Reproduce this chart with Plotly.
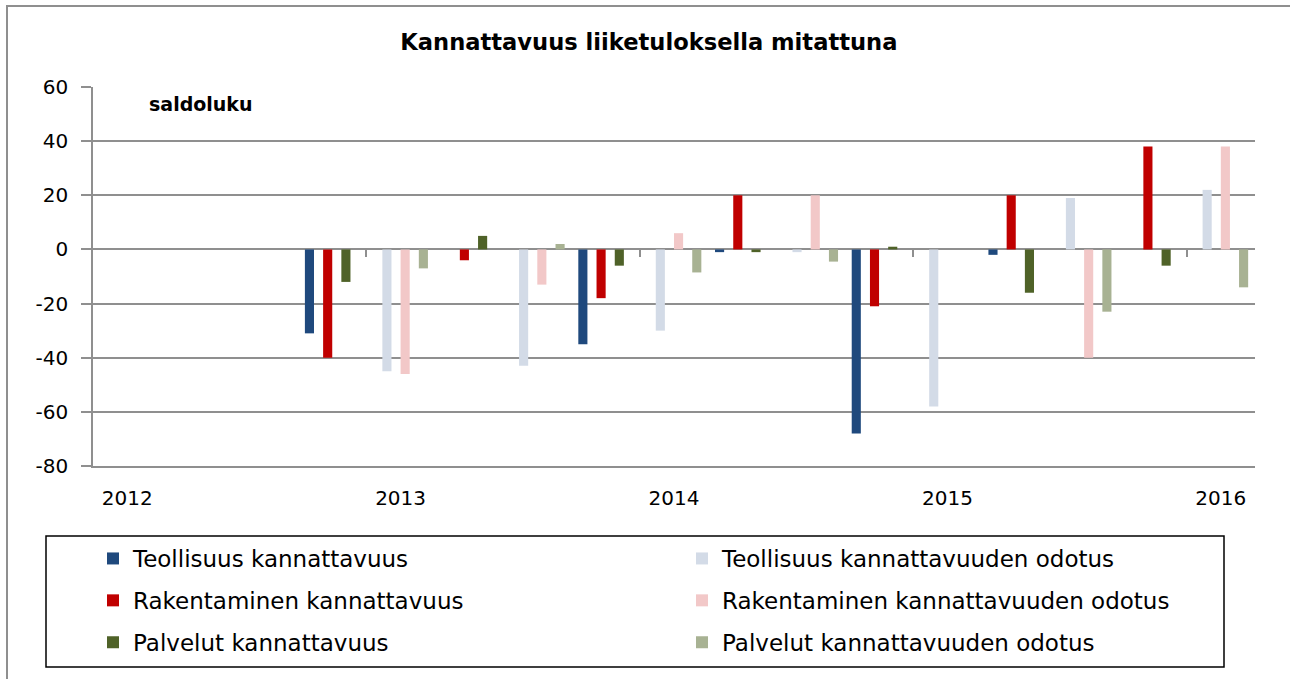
import plotly.graph_objects as go

# ---- data -------------------------------------------------------------
categories = ["2012Q1", "2012Q2", "2012Q3", "2012Q4",
              "2013Q1", "2013Q2", "2013Q3", "2013Q4",
              "2014Q1", "2014Q2", "2014Q3", "2014Q4",
              "2015Q1", "2015Q2", "2015Q3", "2015Q4",
              "2016Q1"]
tick_cats = ["2012Q1", "2013Q1", "2014Q1", "2015Q1", "2016Q1"]
tick_labels = ["2012", "2013", "2014", "2015", "2016"]

y_tick_vals = [-80, -60, -40, -20, 0, 20, 40, 60]
y_tick_labels = ["-80", "-60", "-40", "-20", "0", "20", "40", "60"]

actual_periods = ["2012Q4", "2013Q2", "2013Q4", "2014Q2", "2014Q4", "2015Q2", "2015Q4"]
expect_periods = ["2013Q1", "2013Q3", "2014Q1", "2014Q3", "2015Q1", "2015Q3", "2016Q1"]

teollisuus_k = [-31, 0, -35, -1, -68, -2, 0]
rakentaminen_k = [-40, -4, -18, 20, -21, 20, 38]
palvelut_k = [-12, 5, -6, -1, 1, -16, -6]
teollisuus_o = [-45, -43, -30, -1, -58, 19, 22]
rakentaminen_o = [-46, -13, 6, 20, 0, -40, 38]
palvelut_o = [-7, 2, -8.5, -4.5, 0, -23, -14]

# ---- styling ----------------------------------------------------------
FONT = "DejaVu Sans"
GRID = "#8f8f8f"
W, H = 1290, 679
L, R, T, B = 93, 35, 87, 213
PW, PH = W - L - R, H - T - B


def px_x(x):
    return (x - L) / PW


def px_y(y):
    return (H - B - y) / PH


series = [
    ("Teollisuus kannattavuus", actual_periods, teollisuus_k, "#1F497D", "legend"),
    ("Teollisuus kannattavuuden odotus", expect_periods, teollisuus_o, "#D3DBE7", "legend2"),
    ("Rakentaminen kannattavuus", actual_periods, rakentaminen_k, "#C00000", "legend"),
    ("Rakentaminen kannattavuuden odotus", expect_periods, rakentaminen_o, "#F2C8C8", "legend2"),
    ("Palvelut kannattavuus", actual_periods, palvelut_k, "#4F6228", "legend"),
    ("Palvelut kannattavuuden odotus", expect_periods, palvelut_o, "#A8B293", "legend2"),
]

fig = go.Figure()
for i, (name, xs, ys, color, lg) in enumerate(series):
    fig.add_trace(go.Bar(
        name=name, x=xs, y=ys, marker=dict(color=color, line=dict(width=0)),
        legend=lg, legendgroup=f"g{i}",
    ))

# empty trace to carry the zero-line tick axis
fig.add_trace(go.Scatter(x=[], y=[], xaxis="x2", showlegend=False, hoverinfo="skip"))

zero_frac = 80 / 140
LEG_FONT = dict(family=FONT, size=23, color="black")

fig.update_layout(
    width=W, height=H,
    margin=dict(l=L, r=R, t=T, b=B, pad=0),
    paper_bgcolor="white", plot_bgcolor="white",
    barmode="group", bargap=0.2, bargroupgap=0,
    font=dict(family=FONT, color="black"),
    title=dict(text="<b>Kannattavuus liiketuloksella mitattuna</b>",
               font=dict(family=FONT, size=22.6, color="black"),
               x=0.503, xref="container", xanchor="center",
               y=1 - 42 / H, yref="container", yanchor="middle"),
    xaxis=dict(type="category", categoryorder="array", categoryarray=categories,
               range=[-0.5, 16.5], tickmode="array", tickvals=tick_cats, ticktext=tick_labels,
               ticks="outside", ticklen=0, tickcolor="rgba(0,0,0,0)", ticklabelstandoff=13,
               tickfont=dict(family=FONT, size=20, color="black"),
               showgrid=False, zeroline=False,
               showline=True, linecolor=GRID, linewidth=1.5),
    xaxis2=dict(overlaying="x", anchor="free", position=zero_frac, side="bottom",
                range=[-0.5, 16.5], tickmode="array", tickvals=[3.5, 7.5, 11.5, 15.5],
                ticks="outside", ticklen=7, tickwidth=2, tickcolor=GRID,
                showticklabels=False, showgrid=False, zeroline=False, showline=False),
    yaxis=dict(range=[-80, 60], tickmode="array", tickvals=y_tick_vals, ticktext=y_tick_labels,
               ticks="outside", ticklen=10, tickwidth=1.5, tickcolor=GRID,
               ticklabelstandoff=9,
               tickfont=dict(family=FONT, size=20, color="black"),
               showgrid=True, gridcolor=GRID, gridwidth=1.5,
               zeroline=False, showline=True, linecolor=GRID, linewidth=1.5),
    legend=dict(x=0.0, xanchor="left", y=px_y(537), yanchor="top",
                orientation="v", bgcolor="rgba(0,0,0,0)", borderwidth=0,
                tracegroupgap=9, font=LEG_FONT),
    legend2=dict(x=px_x(682), xanchor="left", y=px_y(537), yanchor="top",
                 orientation="v", bgcolor="rgba(0,0,0,0)", borderwidth=0,
                 tracegroupgap=9, font=LEG_FONT),
    annotations=[dict(text="<b>saldoluku</b>", xref="paper", yref="paper",
                      x=px_x(147), y=px_y(104), xanchor="left", yanchor="middle",
                      showarrow=False, font=dict(family=FONT, size=19, color="black"))],
    shapes=[
        # legend frame
        dict(type="rect", xref="paper", yref="paper",
             x0=px_x(46), x1=px_x(1224), y0=px_y(667), y1=px_y(536),
             line=dict(color="black", width=1.5), fillcolor="rgba(0,0,0,0)", layer="below"),
        # chart area frame: one open path along the left and top edges
        dict(type="path", xref="paper", yref="paper",
             path=(f"M {px_x(7)},{px_y(H + 20)} L {px_x(7)},{px_y(6)} "
                   f"L {px_x(W + 20)},{px_y(6)}"),
             line=dict(color=GRID, width=2), fillcolor="rgba(0,0,0,0)", layer="below"),
    ],
    showlegend=True,
)

fig.write_html("out.html", config={"displayModeBar": False},
               post_script="document.body.style.margin='0';")
